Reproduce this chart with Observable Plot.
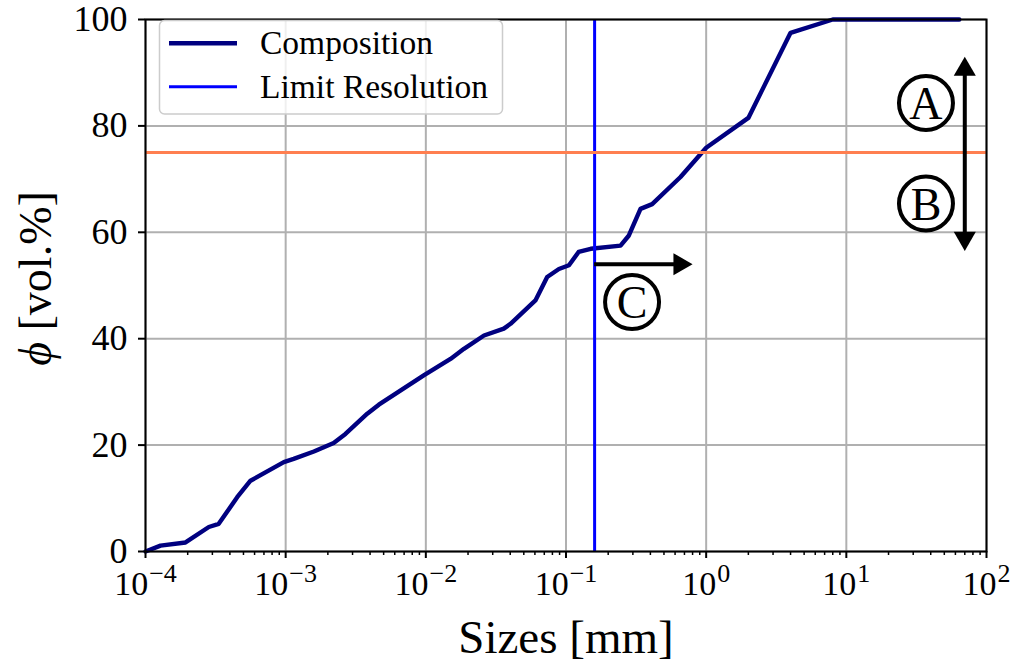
<!DOCTYPE html>
<html>
<head>
<meta charset="utf-8">
<script src="https://cdn.jsdelivr.net/npm/d3@7"></script>
<script src="https://cdn.jsdelivr.net/npm/@observablehq/plot@0.6"></script>
<style>
  body { margin: 0; background: white; }
  #wrap { position: relative; width: 1014px; height: 664px; }
  #legend { position: absolute; left: 0; top: 0; pointer-events: none; }
  svg text { font-family: "Liberation Serif", "Times New Roman", "DejaVu Serif", serif !important; }
</style>
</head>
<body>
<div id="wrap"></div>
<script>
// Cumulative size distribution (sizes in mm, cumulative volume %)
const sizes = [1e-4, 1.28e-4, 1.93e-4, 2.83e-4, 3.33e-4, 4.51e-4, 5.61e-4, 9.7e-4, 1.14e-3, 1.59e-3,
  2.2e-3, 2.67e-3, 3.82e-3, 4.62e-3, 9.66e-3, 0.015, 0.0187, 0.026, 0.036, 0.0402,
  0.0605, 0.0734, 0.089, 0.105, 0.123, 0.15, 0.245, 0.281, 0.34, 0.412,
  0.656, 1.0, 2.0, 4.0, 8.0, 64];
const phi = [0, 1.1, 1.7, 4.6, 5.2, 10.2, 13.3, 16.8, 17.4, 18.8,
  20.4, 22.1, 25.9, 27.6, 33.1, 36.2, 38.1, 40.6, 41.9, 42.8,
  47.2, 51.6, 53.1, 53.8, 56.3, 56.9, 57.5, 59.4, 64.4, 65.3,
  70.4, 75.9, 81.5, 97.5, 100, 100];

const limitResolution = 0.16;   // mm
const threshold = 75;           // vol.%

const xTicks = [1e-4, 1e-3, 1e-2, 1e-1, 1e0, 1e1, 1e2];
const xMinor = xTicks.slice(0, -1).flatMap(d => [2, 3, 4, 5, 6, 7, 8, 9].map(k => k * d));
const yTicks = [0, 20, 40, 60, 80, 100];

// Annotations: circled letters and arrows
const circledLabels = ["A", "B", "C"];
const circledX = [37, 37, 0.296];
const circledY = [84.3, 65.4, 46.9];

const arrowABx = 70;
const arrowABfrom = 56.5;
const arrowABto = 93;
const arrowCy = 54;
const arrowCfrom = 0.16;
const arrowCto = 0.8;

const curve = sizes.map((s, i) => ({size: s, phi: phi[i]}));
const circles = circledLabels.map((l, i) => ({label: l, x: circledX[i], y: circledY[i]}));

// Triangle arrowheads: symbol radius and centroid-to-tip distance
const headR = 8.2;
const headTip = 2 * Math.sqrt(Math.PI * headR * headR / (Math.sqrt(3) * 3));

const serif = "Liberation Serif, Times New Roman, DejaVu Serif, serif";
const grid = {stroke: "#b0b0b0", strokeOpacity: 1, strokeWidth: 2};

const chart = Plot.plot({
  width: 1014,
  height: 664,
  marginLeft: 145,
  marginRight: 28,
  marginTop: 19,
  marginBottom: 113,
  style: {fontFamily: serif, color: "black", background: "white"},
  x: {type: "log", domain: [1e-4, 1e2]},
  y: {domain: [0, 100]},
  marks: [
    Plot.gridX(xTicks, grid),
    Plot.gridY(yTicks, grid),
    Plot.line(curve, {x: "size", y: "phi", stroke: "#000080", strokeWidth: 4.4, strokeLinejoin: "round"}),
    Plot.ruleX([limitResolution], {stroke: "#0000ff", strokeWidth: 3}),
    Plot.ruleY([threshold], {stroke: "#ff7f50", strokeWidth: 3}),
    // double arrow A/B (y1 is the upper end on screen)
    Plot.ruleX([arrowABx], {y1: arrowABto, y2: arrowABfrom, stroke: "black", strokeWidth: 4, insetTop: 10, insetBottom: 10}),
    Plot.dot([{x: arrowABx, y: arrowABto}], {x: "x", y: "y", symbol: "triangle", r: headR, fill: "black", stroke: "none", dy: headTip}),
    Plot.dot([{x: arrowABx, y: arrowABfrom}], {x: "x", y: "y", symbol: "triangle", r: headR, fill: "black", stroke: "none", rotate: 180, dy: -headTip}),
    // arrow C
    Plot.ruleY([arrowCy], {x1: arrowCfrom, x2: arrowCto, stroke: "black", strokeWidth: 4, insetRight: 10}),
    Plot.dot([{x: arrowCto, y: arrowCy}], {x: "x", y: "y", symbol: "triangle", r: headR, fill: "black", stroke: "none", rotate: 90, dx: -headTip}),
    // circled letters
    Plot.dot(circles, {x: "x", y: "y", r: 27, fill: "white", stroke: "black", strokeWidth: 4}),
    Plot.text(circles, {x: "x", y: "y", text: "label", fontSize: 46, fill: "black", dy: 16, lineAnchor: "bottom"}),
    Plot.frame({stroke: "black", strokeWidth: 2}),
    Plot.axisX(xMinor, {tickSize: 4, strokeWidth: 1.5, tickFormat: () => "", label: null}),
    Plot.axisX(xTicks, {tickSize: 7, strokeWidth: 2, tickPadding: 12, fontSize: 34,
      tickFormat: d => "10^" + Math.round(Math.log10(d)), label: null}),
    Plot.axisY(yTicks, {tickSize: 7, strokeWidth: 2, tickPadding: 11, fontSize: 36, label: null}),
    Plot.text(["Sizes [mm]"], {frameAnchor: "bottom", textAnchor: "middle", dy: 101, fontSize: 47, fill: "black", lineAnchor: "bottom"}),
    Plot.text(["ϕ [vol.%]"], {frameAnchor: "left", textAnchor: "middle", dx: -109, dy: -7, rotate: -90, fontSize: 46, fill: "black", lineAnchor: "middle"})
  ]
});

// Superscript exponents on decade labels, italic phi on the y label
chart.querySelectorAll("text").forEach(t => {
  const s = t.textContent;
  const m = /^10\^(-?\d+)$/.exec(s);
  if (m) {
    t.textContent = "10";
    const sup = document.createElementNS("http://www.w3.org/2000/svg", "tspan");
    sup.setAttribute("dy", "-13");
    sup.setAttribute("dx", "1");
    sup.setAttribute("font-size", "26");
    sup.textContent = m[1].replace("-", "\u2212");
    t.appendChild(sup);
  } else if (s.startsWith("ϕ")) {
    t.textContent = "";
    const p = document.createElementNS("http://www.w3.org/2000/svg", "tspan");
    p.setAttribute("font-style", "italic");
    p.textContent = "ϕ";
    t.appendChild(p);
    t.appendChild(document.createTextNode(" [vol.%]"));
  }
});

const wrap = document.getElementById("wrap");
wrap.appendChild(chart);

// Legend box inside the axes
const legendItems = ["Composition", "Limit Resolution"];
const legendColors = ["#000080", "#0000ff"];
const legendWidths = [4.4, 3];
const legend = d3.create("svg").attr("id", "legend").attr("width", 1014).attr("height", 664);
legend.append("rect").attr("x", 159.5).attr("y", 20.5).attr("width", 343).attr("height", 93.5)
  .attr("rx", 5).attr("fill", "white").attr("fill-opacity", 0.8)
  .attr("stroke", "#cccccc").attr("stroke-width", 1.5);
legendItems.forEach((name, i) => {
  const cy = 43.3 + i * 43.4;
  legend.append("line").attr("x1", 169).attr("x2", 237).attr("y1", cy).attr("y2", cy)
    .attr("stroke", legendColors[i]).attr("stroke-width", legendWidths[i]);
  legend.append("text").attr("x", 260).attr("y", cy + 11).attr("font-size", 33.5)
    .attr("fill", "black").text(name);
});
wrap.appendChild(legend.node());
</script>
</body>
</html>
